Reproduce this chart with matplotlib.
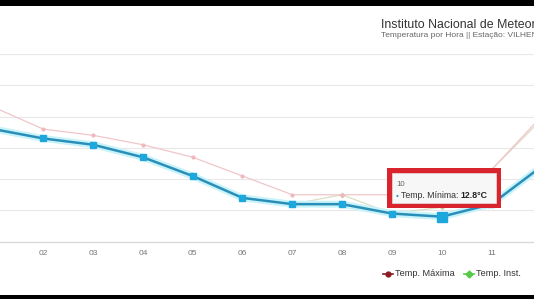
import matplotlib.pyplot as plt
from matplotlib.patches import Rectangle
from matplotlib.lines import Line2D
from matplotlib.text import Annotation

hours = [1, 2, 3, 4, 5, 6, 7, 8, 9, 10, 11, 12]
hourLabels = ["01", "02", "03", "04", "05", "06", "07", "08", "09", "10", "11", "12"]
tempMax = [16.3, 15.6, 15.4, 15.1, 14.7, 14.1, 13.5, 13.5, 13.5, 13.5, 14.3, 16.0]
tempMin = [15.6, 15.3, 15.1, 14.7, 14.1, 13.4, 13.2, 13.2, 12.9, 12.8, 13.2, 14.4]
tempInst = [15.6, 15.3, 15.1, 14.7, 14.1, 13.4, 13.2, 13.5, 12.9, 13.1, 14.3, 15.9]
yTicks = [12, 13, 14, 15, 16, 17, 18]

W, H = 534, 299
plt.rcParams['font.family'] = ['Liberation Sans', 'DejaVu Sans']

def px(x, y):
    # pixel (from top-left) -> figure fraction
    return x / W, 1 - y / H

fig = plt.figure(figsize=(W / 100, H / 100), dpi=100)
fig.patch.set_facecolor('white')

# plot area: hour 2 at x=43.3px, 49.8px per hour; 12C at y=241.7px, 18C at 54px
ax = fig.add_axes([0, (H - 241.7) / H, 1, (241.7 - 54) / H])
h0 = 2 - 43.3 / 49.8
ax.set_xlim(h0, h0 + W / 49.8)
ax.set_ylim(12, 18)
ax.set_facecolor('none')
for s in ['top', 'left', 'right']:
    ax.spines[s].set_visible(False)
ax.spines['bottom'].set_color('#d8d8d8')
ax.spines['bottom'].set_linewidth(0.9)
ax.set_yticks(yTicks)
ax.set_yticklabels([])
ax.tick_params(axis='y', length=0)
ax.grid(axis='y', color='#e8e8e8', linewidth=0.8)
# 01 and 12 fall outside the cropped screenshot
ax.set_xticks(hours[1:11])
ax.set_xticklabels(hourLabels[1:11], fontsize=6, color='#777777')
ax.tick_params(axis='x', length=0, pad=6)

# faded series (inactive)
ax.plot(hours, tempInst, color='#dcdcc4', linewidth=0.9, marker='D', markersize=3,
        markerfacecolor='#c9c9a4', markeredgecolor='none', zorder=2)
ax.plot(hours, tempMax, color='#f0c6ca', linewidth=0.9, marker='o', markersize=3,
        markerfacecolor='#eeb8be', markeredgecolor='none', zorder=3)

# hovered series with halo
ax.plot(hours, tempMin, color='#c9f3fb', linewidth=5, solid_capstyle='round', zorder=4)
ax.plot(hours, tempMin, color='#2a8fb8', linewidth=1.8, marker='s', markersize=4.2,
        markerfacecolor='#1ea7dc', markeredgecolor='#1ea7dc', zorder=5)
ax.plot([hours[9]], [tempMin[9]], marker='s', markersize=6.5, color='#1ea7dc', zorder=6)

# title
fig.text(*px(381, 25), "Instituto Nacional de Meteorologia", fontsize=8.9,
         color='#333333', va='center', ha='left')
fig.text(*px(381, 35.5), "Temperatura por Hora || Estação: VILHENA", fontsize=6.0,
         color='#666666', va='center', ha='left')

# tooltip with red frame
x0, y0 = px(386.7, 208.3)
x1, y1 = px(500.7, 168.3)
fig.patches.append(Rectangle((x0, y0), x1 - x0, y1 - y0, transform=fig.transFigure,
                             facecolor='#d9232d', edgecolor='none', zorder=10))
bx0, by0 = px(391.7, 203.3)
bx1, by1 = px(495.7, 173.3)
fig.patches.append(Rectangle((bx0, by0), bx1 - bx0, by1 - by0, transform=fig.transFigure,
                             facecolor='#f7f7f7', edgecolor='#e0e0e0', linewidth=0.5, zorder=11))
fig.text(*px(396, 185), "10", fontsize=5.6, color='#666666', va='center', zorder=12)
fig.text(*px(396, 195.5), "●", fontsize=3.5, color='#2a8fb8', va='center', zorder=12)
t1 = fig.text(*px(401, 195.5), "Temp. Mínima: ", fontsize=6.3, color='#333333',
              va='center', zorder=12)
boldVal = Annotation("12.8°C", xy=(1, 0.5), xycoords=t1, va='center', ha='left',
                     fontsize=6.3, color='#222222', fontweight='bold',
                     annotation_clip=False)
boldVal.set_zorder(12)
fig.add_artist(boldVal)

# legend
legendItems = [("Temp. Máxima", '#8b1c24', 'o', 383), ("Temp. Inst.", '#55c94a', 'D', 464)]
for name, col, mk, lx in legendItems:
    lxa, lya = px(lx, 273.5)
    lxb, _ = px(lx + 10, 273.5)
    fig.lines.append(Line2D([lxa, lxb], [lya, lya], transform=fig.transFigure,
                            color=col, linewidth=1.2))
    fig.lines.append(Line2D([(lxa + lxb) / 2], [lya], transform=fig.transFigure,
                            color=col, marker=mk, markersize=3.5))
    fig.text(*px(lx + 12, 273.5), name, fontsize=6.6, color='#333333', va='center')

# black bands of the screenshot
bx, by = px(0, 6)
fig.patches.append(Rectangle((0, by), 1, 1 - by, transform=fig.transFigure,
                             facecolor='black', edgecolor='none', zorder=20))
bx, by = px(0, 295)
fig.patches.append(Rectangle((0, 0), 1, by, transform=fig.transFigure,
                             facecolor='black', edgecolor='none', zorder=20))

fig.savefig('out.png', dpi=100)
plt.close('all')
